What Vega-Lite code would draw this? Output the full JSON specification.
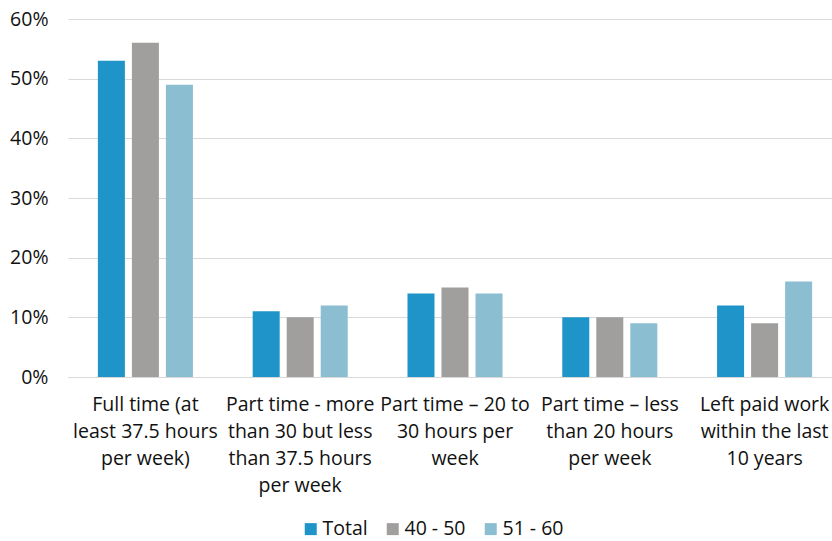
{
  "$schema": "https://vega.github.io/schema/vega-lite/v6.json",
  "autosize": {"type": "none"},
  "padding": {"left": 68, "top": 19, "right": 0, "bottom": 164},
  "width": 764,
  "height": 358,
  "background": "white",
  "config": {
    "view": {"stroke": null},
    "font": "Open Sans",
    "axis": {"labelFont": "Open Sans", "labelColor": "#111111"},
    "legend": {"labelFont": "Open Sans", "labelColor": "#111111"}
  },
  "data": {
    "values": [
      {"category": "Full time (at least 37.5 hours per week)", "group": "Total", "value": 0.53},
      {"category": "Full time (at least 37.5 hours per week)", "group": "40 - 50", "value": 0.56},
      {"category": "Full time (at least 37.5 hours per week)", "group": "51 - 60", "value": 0.49},
      {"category": "Part time - more than 30 but less than 37.5 hours per week", "group": "Total", "value": 0.11},
      {"category": "Part time - more than 30 but less than 37.5 hours per week", "group": "40 - 50", "value": 0.10},
      {"category": "Part time - more than 30 but less than 37.5 hours per week", "group": "51 - 60", "value": 0.12},
      {"category": "Part time – 20 to 30 hours per week", "group": "Total", "value": 0.14},
      {"category": "Part time – 20 to 30 hours per week", "group": "40 - 50", "value": 0.15},
      {"category": "Part time – 20 to 30 hours per week", "group": "51 - 60", "value": 0.14},
      {"category": "Part time – less than 20 hours per week", "group": "Total", "value": 0.10},
      {"category": "Part time – less than 20 hours per week", "group": "40 - 50", "value": 0.10},
      {"category": "Part time – less than 20 hours per week", "group": "51 - 60", "value": 0.09},
      {"category": "Left paid work within the last 10 years", "group": "Total", "value": 0.12},
      {"category": "Left paid work within the last 10 years", "group": "40 - 50", "value": 0.09},
      {"category": "Left paid work within the last 10 years", "group": "51 - 60", "value": 0.16}
    ]
  },
  "mark": {"type": "bar"},
  "encoding": {
    "x": {
      "field": "category",
      "type": "nominal",
      "sort": null,
      "title": null,
      "scale": {"range": [0, 774], "paddingInner": 0.386, "paddingOuter": 0.193},
      "axis": {
        "labelAngle": 0,
        "labelFontSize": 19.5,
        "labelLineHeight": 27,
        "labelBaseline": "top",
        "labelPadding": 18,
        "labelLimit": 0,
        "labelOverlap": false,
        "ticks": false,
        "domainColor": "#D9D9D9",
        "domainWidth": 1,
        "labelExpr": "{'Full time (at least 37.5 hours per week)': ['Full time (at', 'least 37.5 hours', 'per week)'], 'Part time - more than 30 but less than 37.5 hours per week': ['Part time - more', 'than 30 but less', 'than 37.5 hours', 'per week'], 'Part time – 20 to 30 hours per week': ['Part time – 20 to', '30 hours per', 'week'], 'Part time – less than 20 hours per week': ['Part time – less', 'than 20 hours', 'per week'], 'Left paid work within the last 10 years': ['Left paid work', 'within the last', '10 years']}[datum.value]"
      }
    },
    "xOffset": {
      "field": "group",
      "type": "nominal",
      "sort": ["Total", "40 - 50", "51 - 60"],
      "scale": {"paddingInner": 0.206, "paddingOuter": 0}
    },
    "y": {
      "field": "value",
      "type": "quantitative",
      "title": null,
      "scale": {"domain": [0, 0.6], "nice": false},
      "axis": {
        "values": [0, 0.1, 0.2, 0.3, 0.4, 0.5, 0.6],
        "format": ".0%",
        "labelFontSize": 19.5,
        "labelPadding": 20,
        "ticks": false,
        "domain": false,
        "gridColor": "#D9D9D9",
        "gridWidth": 1
      }
    },
    "color": {
      "field": "group",
      "type": "nominal",
      "scale": {"domain": ["Total", "40 - 50", "51 - 60"], "range": ["#1F94C8", "#A09F9E", "#8CBED2"]},
      "legend": {
        "title": null,
        "orient": "none",
        "direction": "horizontal",
        "legendX": 233,
        "legendY": 500,
        "symbolType": "square",
        "symbolSize": 144,
        "symbolStrokeWidth": 0,
        "labelFontSize": 19.5,
        "labelOffset": 2,
        "columnPadding": 15
      }
    }
  }
}
